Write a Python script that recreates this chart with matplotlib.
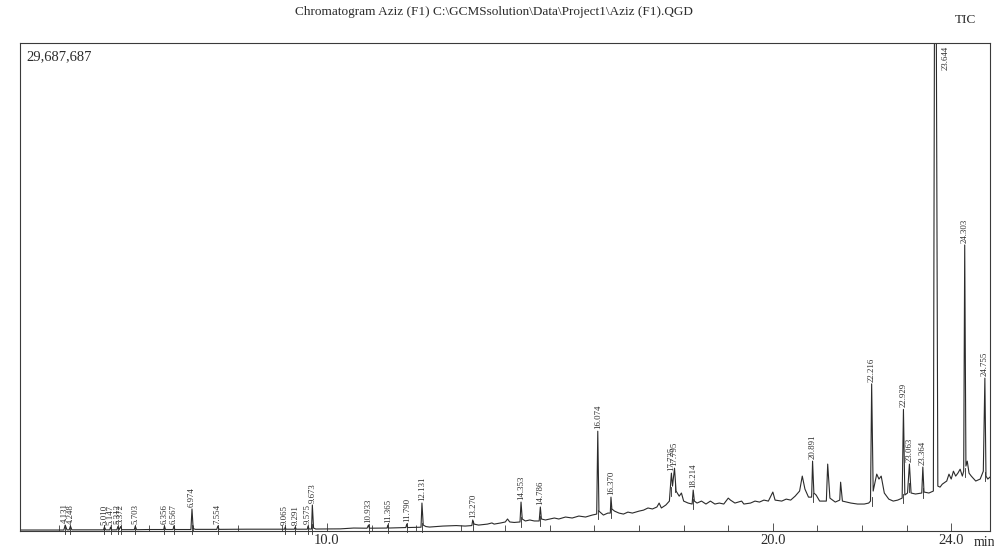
import numpy as np
import matplotlib
matplotlib.use("Agg")
import matplotlib.pyplot as plt

# retention time (min) and TIC intensity (millions of counts)
trace_t = [
    3.12, 3.60, 4.10, 4.131, 4.17, 4.22, 4.248, 4.28, 4.60, 4.99, 5.010, 5.04,
    5.13, 5.147, 5.17, 5.29, 5.312, 5.34, 5.372, 5.40, 5.68, 5.703, 5.73, 6.00,
    6.34, 6.356, 6.38, 6.55, 6.567, 6.59, 6.95, 6.974, 7.00, 7.05, 7.53, 7.554,
    7.58, 8.20, 8.80, 9.05, 9.065, 9.08, 9.27, 9.291, 9.31, 9.56, 9.575, 9.60,
    9.655, 9.673, 9.70, 9.75, 10.30, 10.60, 10.90, 10.933, 10.95, 11.35, 11.365,
    11.38, 11.77, 11.790, 11.81, 12.11, 12.131, 12.16, 12.22, 12.30, 12.60,
    12.90, 13.10, 13.25, 13.270, 13.30, 13.40, 13.60, 13.70, 13.75, 13.90,
    14.00, 14.05, 14.10, 14.20, 14.33, 14.353, 14.38, 14.45, 14.55, 14.65,
    14.76, 14.786, 14.81, 14.90, 15.00, 15.10, 15.20, 15.35, 15.50, 15.65,
    15.80, 15.95, 16.05, 16.074, 16.10, 16.20, 16.30, 16.355, 16.370, 16.39,
    16.45, 16.55, 16.65, 16.75, 16.85, 17.00, 17.10, 17.20, 17.30, 17.40,
    17.45, 17.50, 17.60, 17.68, 17.725, 17.75, 17.795, 17.83, 17.90, 17.95,
    18.00, 18.10, 18.19, 18.214, 18.24, 18.30, 18.40, 18.50, 18.60, 18.70,
    18.80, 18.90, 19.00, 19.05, 19.15, 19.30, 19.35, 19.50, 19.60, 19.70,
    19.80, 19.90, 20.00, 20.05, 20.20, 20.30, 20.40, 20.50, 20.60, 20.66,
    20.72, 20.80, 20.87, 20.891, 20.92, 20.97, 21.05, 21.20, 21.23, 21.28,
    21.40, 21.50, 21.52, 21.56, 21.65, 21.75, 21.90, 22.05, 22.15, 22.19,
    22.216, 22.25, 22.33, 22.38, 22.43, 22.50, 22.60, 22.70, 22.80, 22.90,
    22.929, 22.96, 23.02, 23.063, 23.10, 23.20, 23.34, 23.364, 23.39, 23.50,
    23.60, 23.625, 23.665, 23.70, 23.75, 23.80, 23.90, 23.95, 24.00, 24.05,
    24.10, 24.15, 24.20, 24.25, 24.28, 24.303, 24.33, 24.36, 24.40, 24.45,
    24.55, 24.65, 24.72, 24.755, 24.78, 24.82, 24.87,
]
trace_i = [
    0.06, 0.06, 0.06, 0.36, 0.07, 0.07, 0.30, 0.07, 0.07, 0.07, 0.24, 0.07,
    0.07, 0.24, 0.07, 0.07, 0.27, 0.08, 0.27, 0.08, 0.08, 0.30, 0.08, 0.09,
    0.09, 0.30, 0.09, 0.09, 0.30, 0.09, 0.09, 1.34, 0.15, 0.10, 0.10, 0.30,
    0.10, 0.11, 0.11, 0.11, 0.24, 0.11, 0.11, 0.24, 0.11, 0.11, 0.30, 0.12,
    0.12, 1.58, 0.18, 0.12, 0.13, 0.18, 0.17, 0.36, 0.17, 0.18, 0.36,
    0.18, 0.21, 0.42, 0.21, 0.23, 1.70, 0.36, 0.27, 0.24, 0.30,
    0.33, 0.30, 0.33, 0.67, 0.42, 0.36, 0.42, 0.49, 0.42, 0.49,
    0.55, 0.73, 0.55, 0.52, 0.55, 1.76, 0.73, 0.61, 0.67, 0.61,
    0.61, 1.46, 0.73, 0.67, 0.73, 0.79, 0.73, 0.85, 0.79, 0.91,
    0.85, 0.97, 1.03, 6.07, 1.21, 0.97, 1.09, 1.09, 2.06, 1.34,
    1.21, 1.09, 1.03, 1.15, 1.09, 1.21, 1.27, 1.40, 1.34, 1.46,
    1.70, 1.40, 1.58, 1.82, 3.52, 2.73, 3.82, 2.43, 2.12, 2.31,
    1.82, 1.70, 1.64, 2.49, 1.82, 1.70, 1.82, 1.64, 1.82, 1.64,
    1.70, 1.64, 2.00, 1.88, 1.70, 1.82, 1.64, 1.70, 1.82, 1.76,
    1.88, 1.82, 2.37, 1.88, 1.82, 1.94, 1.88, 2.12, 2.43, 3.34,
    2.55, 2.06, 2.06, 4.25, 2.31, 2.19, 1.82, 1.82, 4.07, 2.00,
    1.76, 1.88, 2.97, 1.82, 1.76, 1.70, 1.64, 1.64, 1.70, 1.82,
    8.95, 2.43, 3.46, 3.16, 3.34, 2.31, 1.94, 1.82, 1.88, 2.00,
    7.40, 2.19, 2.31, 4.07, 2.31, 2.25, 2.31, 3.89, 2.37, 2.31,
    2.43, 31.5, 31.5, 2.73, 2.67, 2.85, 3.04, 3.46, 3.16, 3.64,
    3.34, 3.52, 3.76, 3.34, 3.64, 17.40, 3.95, 4.25, 3.52, 3.34,
    3.04, 3.16, 3.64, 9.30, 3.34, 3.16, 3.28,
]

peak_labels = [
    "4.131", "4.248", "5.010", "5.147", "5.312", "5.372", "5.703", "6.356",
    "6.567", "6.974", "7.554", "9.065", "9.291", "9.575", "9.673", "10.933",
    "11.365", "11.790", "12.131", "13.270", "14.353", "14.786", "16.074",
    "16.370", "17.725", "17.795", "18.214", "20.891", "22.216", "22.929",
    "23.063", "23.364", "24.303", "24.755",
]
offscale_label = "23.644"

full_scale = 29.687687  # millions
x_ticks = [10.0, 20.0, 24.0]

INK = "#2b2b2b"
LABEL_FONT = ["Liberation Sans Narrow", "Liberation Serif", "DejaVu Serif"]
SERIF = ["Liberation Serif", "DejaVu Serif"]

fig = plt.figure(figsize=(9.94, 5.48), dpi=100)
ax = fig.add_axes([20 / 994, 1 - 531 / 548, 970 / 994, (531 - 43) / 548])

t = np.array(trace_t)
inten = np.array(trace_i)
ax.plot(t, inten, color=INK, lw=0.8)

ax.set_xlim(3.117, 24.87)
ax.set_ylim(0, full_scale)

for lab in peak_labels:
    rt = float(lab)
    apex = np.interp(rt, t, inten)
    base = min(np.interp(rt - 0.03, t, inten), np.interp(rt + 0.03, t, inten))
    ax.annotate(lab, (rt, apex), xytext=(0, 1.5), textcoords="offset points",
                rotation=90, ha="center", va="bottom", fontsize=6.3,
                family=LABEL_FONT, color=INK)
    ax.plot([rt, rt], [base - 0.28, base + 0.28], color=INK, lw=0.6,
            clip_on=False)

# off-scale peak: label sits at the top of the frame
ax.text(23.78, full_scale * 0.995, offscale_label, rotation=90, ha="left",
        va="top", fontsize=6.3, family=LABEL_FONT, color=INK)

for s in ax.spines.values():
    s.set_color("#3a3a3a")
    s.set_linewidth(0.8)

ax.set_yticks([])
ax.set_xticks(x_ticks)
ax.set_xticklabels([f"{v:.1f}" for v in x_ticks], family=SERIF, fontsize=10.5,
                   color=INK)
ax.set_xticks(np.arange(4, 25, 1.0), minor=True)
ax.tick_params(axis="x", which="both", direction="in", length=4, width=0.6,
               color="#3a3a3a", pad=2)
ax.tick_params(axis="x", which="major", length=6)

ax.text(0.007, 0.985, "29,687,687", transform=ax.transAxes, ha="left",
        va="top", fontsize=10.5, family=SERIF, color=INK)

fig.text(985 / 994, 1 - 542 / 548, "min", ha="center", va="center",
         fontsize=10, family=SERIF, color=INK)
fig.text(976 / 994, 1 - 20 / 548, "TIC", ha="right", va="center",
         fontsize=9.5, family=SERIF, color=INK)
fig.text(494 / 994, 1 - 12 / 548,
         "Chromatogram Aziz (F1) C:\\GCMSsolution\\Data\\Project1\\Aziz (F1).QGD",
         ha="center", va="center", fontsize=9.5, family=SERIF, color=INK)

fig.savefig("out.png", dpi=100)
